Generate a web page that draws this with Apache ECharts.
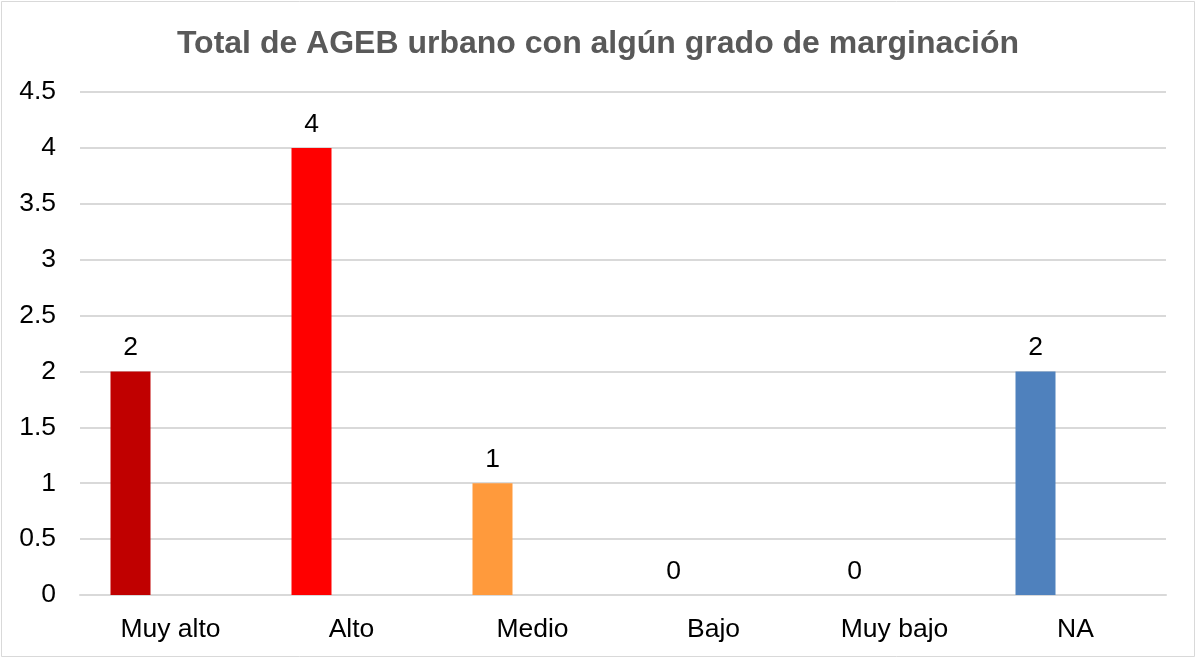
<!DOCTYPE html>
<html>
<head>
<meta charset="utf-8">
<script src="https://cdn.jsdelivr.net/npm/echarts@6/dist/echarts.min.js"></script>
<style>
html,body{margin:0;padding:0;background:#fff;}
#chart{width:1196px;height:658px;}
</style>
</head>
<body>
<div id="chart"></div>
<script>
const categories = ['Muy alto', 'Alto', 'Medio', 'Bajo', 'Muy bajo', 'NA'];
const values = [2, 4, 1, 0, 0, 2];
const yTicks = { min: 0, max: 4.5, interval: 0.5 };
const titleText = 'Total de AGEB urbano con algún grado de marginación';

const barColors = ['#C00000', '#FF0000', '#FF9A3C', '#A5A5A5', '#A5A5A5', '#4F81BD'];

const chart = echarts.init(document.getElementById('chart'));
const font = '"Liberation Sans", Arial, sans-serif';
chart.setOption({
  animation: false,
  backgroundColor: '#fff',
  textStyle: { fontFamily: font },
  title: {
    text: titleText,
    left: 'center',
    top: 23,
    textStyle: { fontFamily: font, fontSize: 32, fontWeight: 'bold', color: '#595959' }
  },
  graphic: [{
    type: 'rect',
    shape: { x: 1.5, y: 1.5, width: 1193, height: 655 },
    style: { fill: 'none', stroke: '#d9d9d9', lineWidth: 1 },
    silent: true
  }],
  grid: { left: 80, right: 30, top: 92, bottom: 63, containLabel: false },
  xAxis: {
    type: 'category',
    data: categories,
    axisLine: { show: true, lineStyle: { color: '#d9d9d9', width: 2 } },
    axisTick: { show: false },
    axisLabel: { color: '#000', fontSize: 26.5, fontFamily: font, margin: 21 }
  },
  yAxis: {
    type: 'value',
    min: yTicks.min,
    max: yTicks.max,
    interval: yTicks.interval,
    axisLine: { show: false },
    axisTick: { show: false },
    axisLabel: { color: '#000', fontSize: 26.5, fontFamily: font, margin: 24 },
    splitLine: { lineStyle: { color: '#d9d9d9', width: 2 } }
  },
  series: [{
    type: 'bar',
    barWidth: 40,
    barGap: '100%',
    data: values.map((v, i) => ({ value: v, itemStyle: { color: barColors[i] } })),
    label: { show: true, position: 'top', distance: 10, color: '#000', fontSize: 26.5, fontFamily: font }
  }, {
    type: 'bar',
    barWidth: 40,
    data: values.map(() => '-')
  }]
});
</script>
</body>
</html>
